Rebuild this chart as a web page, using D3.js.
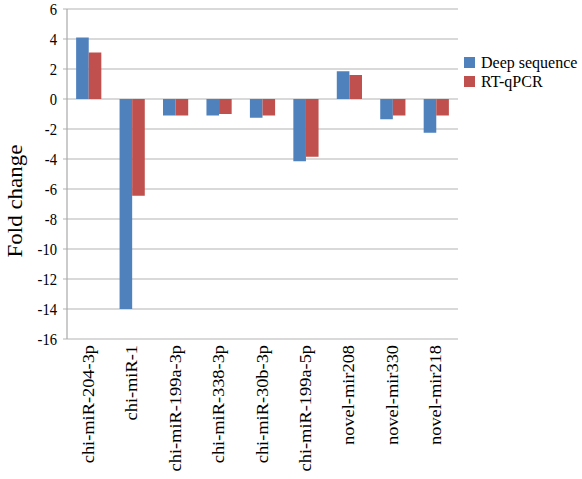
<!DOCTYPE html>
<html><head><meta charset="utf-8">
<script src="https://cdn.jsdelivr.net/npm/d3@7"></script>
<style>body{margin:0;background:#fff}svg{display:block}</style>
</head><body><div id="chart"></div>
<script>
const categories = ["chi-miR-204-3p","chi-miR-1","chi-miR-199a-3p","chi-miR-338-3p","chi-miR-30b-3p","chi-miR-199a-5p","novel-mir208","novel-mir330","novel-mir218"];
const seriesNames = ["Deep sequence","RT-qPCR"];
const deepSeq = [4.1,-14,-1.1,-1.1,-1.25,-4.15,1.85,-1.35,-2.25];
const rtqpcr = [3.1,-6.45,-1.1,-1.0,-1.1,-3.85,1.6,-1.1,-1.1];
const yTicks = [6,4,2,0,-2,-4,-6,-8,-10,-12,-14,-16];
const colors = ["#4F81BD","#C0504D"];

const FONT = "Liberation Serif, Times New Roman, serif";
const W=582,H=479;
const svg=d3.select("#chart").append("svg").attr("width",W).attr("height",H);
const pL=67,pR=458,pT=9,pB=339;
const y=d3.scaleLinear().domain([-16,6]).range([pB,pT]);
const x0=d3.scaleBand().domain(categories).range([pL,pR]).paddingInner(0.42).paddingOuter(0.21);
const x1=d3.scaleBand().domain(seriesNames).range([0,x0.bandwidth()]);

// grid
svg.append("g").selectAll("line").data(yTicks).join("line")
 .attr("x1",pL-4).attr("x2",pR).attr("y1",d=>y(d)).attr("y2",d=>y(d))
 .attr("stroke","#b4b4b4").attr("stroke-width",1.2);
// y axis line
svg.append("line").attr("x1",pL).attr("x2",pL).attr("y1",pT).attr("y2",pB).attr("stroke","#a8a8a8").attr("stroke-width",1.2);

// y tick labels
svg.append("g").selectAll("text").data(yTicks).join("text")
 .attr("transform",d=>`translate(${pL-10},${y(d)}) scale(0.86,1)`)
 .attr("text-anchor","end").attr("dy","0.35em")
 .attr("font-family",FONT).attr("font-size",17).attr("fill","#000")
 .text(d=>d);

const data=[deepSeq,rtqpcr];
data.forEach((vals,si)=>{
  svg.append("g").selectAll("rect").data(vals).join("rect")
   .attr("x",(d,i)=>x0(categories[i])+x1(seriesNames[si]))
   .attr("width",x1.bandwidth())
   .attr("y",d=>y(Math.max(0,d)))
   .attr("height",d=>Math.abs(y(d)-y(0)))
   .attr("fill",colors[si]);
});

// x labels
svg.append("g").selectAll("text").data(categories).join("text")
 .attr("transform",d=>`translate(${x0(d)+x0.bandwidth()/2+5},${pB+6}) rotate(-90) scale(1.08,1)`)
 .attr("text-anchor","end").attr("font-family",FONT).attr("font-size",17).attr("fill","#000").text(d=>d);

// y title
svg.append("text").attr("transform",`translate(22,${(pT+pB)/2+27}) rotate(-90) scale(1.15,1)`)
 .attr("text-anchor","middle").attr("font-family",FONT).attr("font-size",20).attr("fill","#000").text("Fold change");

// legend
const lg=svg.append("g").attr("transform","translate(464,57)");
seriesNames.forEach((n,i)=>{
  lg.append("rect").attr("x",0).attr("y",i*19).attr("width",11).attr("height",11).attr("fill",colors[i]);
  lg.append("text").attr("x",17).attr("y",i*19+11).attr("font-family",FONT).attr("font-size",16).attr("fill","#000").text(n);
});
</script></body></html>
